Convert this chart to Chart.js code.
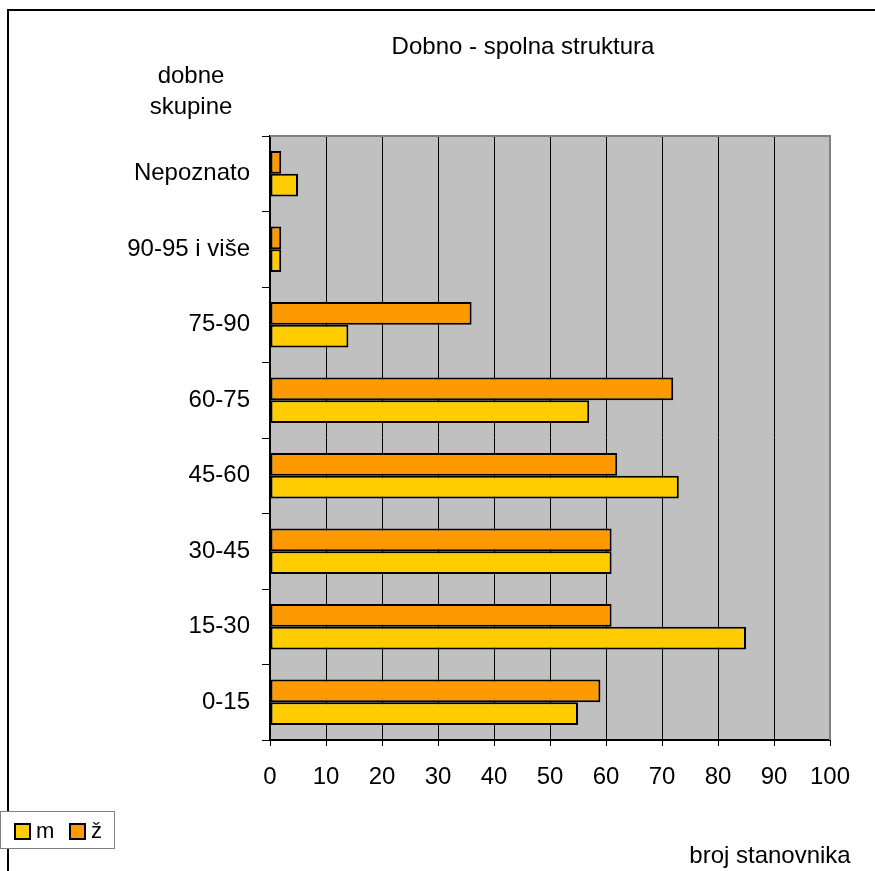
<!DOCTYPE html>
<html>
<head>
<meta charset="utf-8">
<script src="https://cdn.jsdelivr.net/npm/chart.js@4/dist/chart.umd.min.js"></script>
<style>
  html, body { margin: 0; padding: 0; background: #fff; }
  #wrap { width: 875px; height: 871px; position: relative; }
</style>
</head>
<body>
<div id="wrap"><canvas id="chart"></canvas></div>
<script>
// podaci - dobne skupine od vrha prema dnu
const categories = ["Nepoznato", "90-95 i više", "75-90", "60-75", "45-60", "30-45", "15-30", "0-15"];
const valuesZ = [2, 2, 36, 72, 62, 61, 61, 59];
const valuesM = [5, 2, 14, 57, 73, 61, 85, 55];
const xTicks = [0, 10, 20, 30, 40, 50, 60, 70, 80, 90, 100];

const FONT = "'Liberation Sans', Arial, sans-serif";
const FONT_SIZE = 24;
const GREY_BG = "#C0C0C0";

// okvir, pozadina, naslovi i legenda
const decorPlugin = {
    id: "decor",
    beforeDraw(chart) {
        const { ctx, chartArea: a } = chart;
        ctx.save();
        ctx.fillStyle = "#fff";
        ctx.fillRect(0, 0, chart.width, chart.height);
        // vanjski okvir
        ctx.strokeStyle = "#000";
        ctx.lineWidth = 2;
        ctx.beginPath();
        ctx.moveTo(8, chart.height + 2);
        ctx.lineTo(8, 10);
        ctx.lineTo(chart.width + 2, 10);
        ctx.stroke();
        // siva podloga
        ctx.fillStyle = GREY_BG;
        ctx.fillRect(a.left, a.top, a.right - a.left, a.bottom - a.top);
        ctx.restore();
    },
    afterDatasetsDraw(chart) {
        const { ctx, chartArea: a } = chart;
        ctx.save();
        ctx.strokeStyle = "#808080";
        ctx.lineWidth = 2;
        ctx.beginPath();
        ctx.moveTo(a.left, a.top);
        ctx.lineTo(a.right, a.top);
        ctx.lineTo(a.right, a.bottom);
        ctx.stroke();
        ctx.restore();
    },
    afterDraw(chart) {
        const { ctx } = chart;
        ctx.save();
        ctx.fillStyle = "#000";
        ctx.font = FONT_SIZE + "px " + FONT;
        ctx.textAlign = "center";
        ctx.textBaseline = "middle";
        ctx.fillText("Dobno - spolna struktura", 523, 47);
        ctx.fillText("dobne", 191, 76);
        ctx.fillText("skupine", 191, 107);
        ctx.fillText("broj stanovnika", 770, 856);

        // legenda (m pa ž)
        ctx.fillStyle = "#fff";
        ctx.fillRect(0, 811, 115, 38);
        ctx.strokeStyle = "#808080";
        ctx.lineWidth = 1;
        ctx.strokeRect(0.5, 811.5, 114, 37);
        const items = [chart.data.datasets[1], chart.data.datasets[0]];
        let x = 15;
        ctx.textAlign = "left";
        ctx.font = "22px " + FONT;
        items.forEach(ds => {
            ctx.fillStyle = ds.backgroundColor;
            ctx.fillRect(x, 824, 15, 15);
            ctx.strokeStyle = "#000";
            ctx.lineWidth = 2;
            ctx.strokeRect(x, 824, 15, 15);
            ctx.fillStyle = "#000";
            ctx.fillText(ds.label, x + 21, 832);
            x += 55;
        });
        ctx.restore();
    }
};

new Chart(document.getElementById("chart"), {
    type: "bar",
    data: {
        labels: categories,
        datasets: [
            {
                label: "ž",
                data: valuesZ,
                backgroundColor: "#FF9900",
                borderColor: "#000",
                borderWidth: 2,
                borderSkipped: false,
                barPercentage: 1,
                categoryPercentage: 0.6
            },
            {
                label: "m",
                data: valuesM,
                backgroundColor: "#FFCC00",
                borderColor: "#000",
                borderWidth: 2,
                borderSkipped: false,
                barPercentage: 1,
                categoryPercentage: 0.6
            }
        ]
    },
    options: {
        indexAxis: "y",
        responsive: true,
        maintainAspectRatio: false,
        animation: false,
        layout: { padding: { left: 0, right: 45, top: 136, bottom: 0 } },
        plugins: {
            legend: { display: false },
            title: { display: false },
            tooltip: { enabled: false }
        },
        scales: {
            x: {
                min: 0,
                max: 100,
                afterBuildTicks(scale) { scale.ticks = xTicks.map(v => ({ value: v })); },
                afterFit(scale) { scale.height = 131; },
                grid: {
                    color: c => (c.tick && c.tick.value === 100 ? "#808080" : "#000"),
                    lineWidth: 1,
                    drawTicks: true,
                    tickLength: 6,
                    tickColor: "#000"
                },
                border: { color: "#000", width: 2 },
                ticks: {
                    color: "#000",
                    font: { family: FONT, size: FONT_SIZE },
                    padding: 17,
                    maxRotation: 0,
                    autoSkip: false
                }
            },
            y: {
                afterFit(scale) { scale.width = 270; },
                grid: {
                    drawOnChartArea: false,
                    drawTicks: true,
                    tickLength: 8,
                    color: "#000",
                    offset: true
                },
                border: { color: "#000", width: 2 },
                ticks: {
                    color: "#000",
                    font: { family: FONT, size: FONT_SIZE },
                    padding: 12
                }
            }
        }
    },
    plugins: [decorPlugin]
});
</script>
</body>
</html>
